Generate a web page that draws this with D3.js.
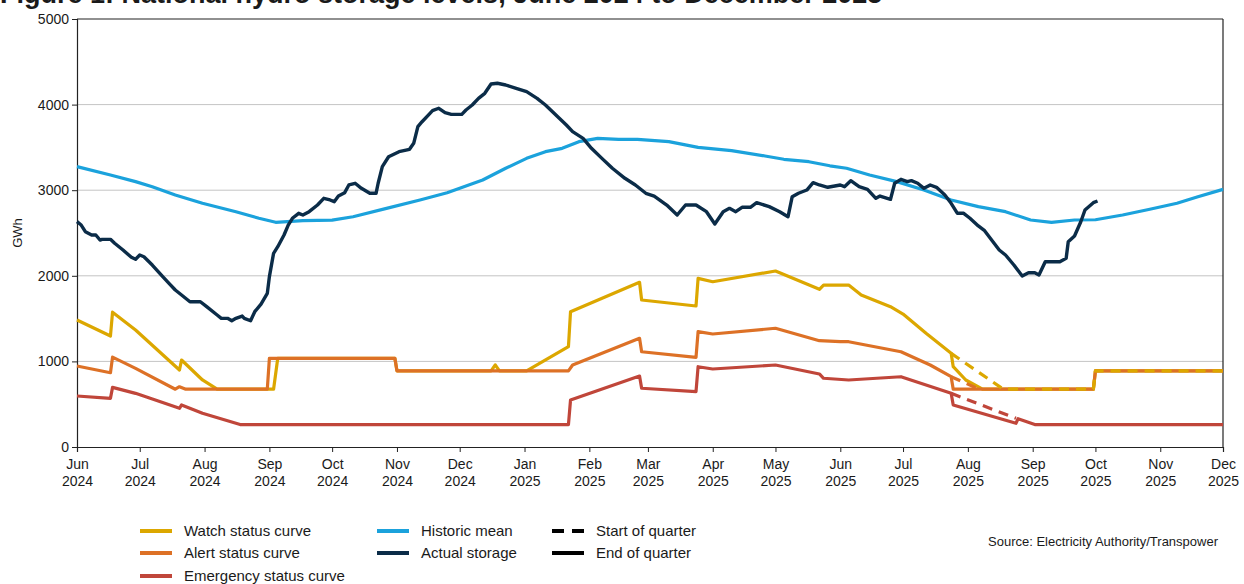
<!doctype html>
<html lang="en">
<head>
    <meta charset="UTF-8">
    <title>National hydro storage levels</title>
    <script src="https://cdnjs.cloudflare.com/ajax/libs/d3/7.8.5/d3.min.js"></script>
    <style>
        body {
            margin: 0;
            background: #ffffff;
        }

        svg text {
            font-family: "Liberation Sans", Arial, Helvetica, sans-serif;
            fill: #1a1a1a;
        }
    </style>
</head>
<body>

<svg id="chart" width="1244" height="584"></svg>

<script>

    // ---- data ----

    var yTicks = [0, 1000, 2000, 3000, 4000, 5000];

    var actualStorage = [
        ["2024-06-01", 2632], ["2024-06-03", 2593], ["2024-06-05", 2515], ["2024-06-08", 2477], ["2024-06-10", 2477],
        ["2024-06-12", 2418], ["2024-06-13", 2426], ["2024-06-17", 2426], ["2024-06-19", 2380], ["2024-06-23", 2301],
        ["2024-06-27", 2216], ["2024-06-29", 2193], ["2024-07-01", 2243], ["2024-07-03", 2223], ["2024-07-07", 2126],
        ["2024-07-12", 1990], ["2024-07-15", 1912], ["2024-07-18", 1834], ["2024-07-21", 1776], ["2024-07-25", 1697],
        ["2024-07-30", 1697], ["2024-08-02", 1639], ["2024-08-07", 1542], ["2024-08-09", 1503], ["2024-08-12", 1503],
        ["2024-08-14", 1475], ["2024-08-16", 1503], ["2024-08-19", 1530], ["2024-08-20", 1503], ["2024-08-23", 1475],
        ["2024-08-25", 1581], ["2024-08-28", 1670], ["2024-08-31", 1795], ["2024-09-01", 1990], ["2024-09-03", 2263],
        ["2024-09-05", 2340], ["2024-09-08", 2477], ["2024-09-10", 2593], ["2024-09-12", 2672], ["2024-09-15", 2730],
        ["2024-09-17", 2710], ["2024-09-20", 2749], ["2024-09-24", 2827], ["2024-09-27", 2905], ["2024-09-30", 2886],
        ["2024-10-02", 2866], ["2024-10-04", 2932], ["2024-10-07", 2971], ["2024-10-09", 3061], ["2024-10-12", 3081],
        ["2024-10-15", 3022], ["2024-10-19", 2964], ["2024-10-22", 2964], ["2024-10-23", 3081], ["2024-10-25", 3275],
        ["2024-10-28", 3391], ["2024-11-02", 3450], ["2024-11-07", 3478], ["2024-11-09", 3548], ["2024-11-11", 3742],
        ["2024-11-13", 3800], ["2024-11-16", 3878], ["2024-11-18", 3929], ["2024-11-21", 3957], ["2024-11-24", 3906],
        ["2024-11-27", 3886], ["2024-12-02", 3886], ["2024-12-04", 3937], ["2024-12-07", 3995], ["2024-12-10", 4073],
        ["2024-12-13", 4132], ["2024-12-16", 4241], ["2024-12-19", 4249], ["2024-12-23", 4229], ["2024-12-28", 4190],
        ["2025-01-02", 4151], ["2025-01-07", 4073], ["2025-01-11", 3995], ["2025-01-16", 3878], ["2025-01-21", 3762],
        ["2025-01-24", 3684], ["2025-01-29", 3606], ["2025-02-02", 3489], ["2025-02-07", 3372], ["2025-02-12", 3256],
        ["2025-02-18", 3139], ["2025-02-23", 3061], ["2025-02-28", 2964], ["2025-03-04", 2932], ["2025-03-10", 2827],
        ["2025-03-15", 2710], ["2025-03-19", 2827], ["2025-03-24", 2827], ["2025-03-29", 2749], ["2025-04-02", 2605],
        ["2025-04-06", 2749], ["2025-04-09", 2788], ["2025-04-12", 2749], ["2025-04-15", 2800], ["2025-04-19", 2800],
        ["2025-04-22", 2854], ["2025-04-28", 2808], ["2025-05-03", 2749], ["2025-05-07", 2690], ["2025-05-09", 2924],
        ["2025-05-12", 2964], ["2025-05-16", 3002], ["2025-05-19", 3088], ["2025-05-22", 3061], ["2025-05-26", 3034],
        ["2025-06-01", 3061], ["2025-06-03", 3041], ["2025-06-06", 3111], ["2025-06-10", 3041], ["2025-06-14", 3010],
        ["2025-06-18", 2905], ["2025-06-20", 2932], ["2025-06-25", 2893], ["2025-06-27", 3081], ["2025-06-30", 3127],
        ["2025-07-03", 3100], ["2025-07-05", 3111], ["2025-07-08", 3081], ["2025-07-11", 3022], ["2025-07-14", 3061],
        ["2025-07-17", 3034], ["2025-07-21", 2944], ["2025-07-24", 2847], ["2025-07-27", 2730], ["2025-07-30", 2730],
        ["2025-08-02", 2672], ["2025-08-06", 2582], ["2025-08-09", 2527], ["2025-08-13", 2398], ["2025-08-16", 2301],
        ["2025-08-19", 2243], ["2025-08-23", 2126], ["2025-08-27", 1998], ["2025-08-30", 2036], ["2025-09-02", 2036],
        ["2025-09-04", 2009], ["2025-09-07", 2165], ["2025-09-14", 2165], ["2025-09-17", 2204], ["2025-09-18", 2398],
        ["2025-09-21", 2465], ["2025-09-24", 2632], ["2025-09-26", 2769], ["2025-09-30", 2854], ["2025-10-02", 2874]
    ];

    var historicMean = [
        ["2024-06-01", 3275], ["2024-06-17", 3178], ["2024-06-29", 3100], ["2024-07-07", 3041], ["2024-07-18", 2944],
        ["2024-07-31", 2847], ["2024-08-16", 2749], ["2024-08-27", 2672], ["2024-09-04", 2625], ["2024-09-17", 2644],
        ["2024-10-01", 2650], ["2024-10-11", 2690], ["2024-10-27", 2788], ["2024-11-12", 2886], ["2024-11-25", 2970],
        ["2024-12-01", 3022], ["2024-12-12", 3119], ["2024-12-23", 3256], ["2025-01-02", 3372], ["2025-01-11", 3450],
        ["2025-01-19", 3489], ["2025-01-27", 3567], ["2025-02-05", 3606], ["2025-02-15", 3594], ["2025-02-24", 3594],
        ["2025-03-11", 3567], ["2025-03-25", 3501], ["2025-04-10", 3462], ["2025-04-26", 3400], ["2025-05-05", 3361],
        ["2025-05-17", 3333], ["2025-05-27", 3285], ["2025-06-04", 3256], ["2025-06-15", 3178], ["2025-06-28", 3100],
        ["2025-07-11", 3002], ["2025-07-24", 2886], ["2025-08-06", 2808], ["2025-08-19", 2749], ["2025-08-31", 2652],
        ["2025-09-10", 2625], ["2025-09-21", 2652], ["2025-10-01", 2655], ["2025-10-14", 2710], ["2025-10-27", 2777],
        ["2025-11-09", 2847], ["2025-11-19", 2924], ["2025-12-01", 3010]
    ];

    // end of quarter curves (solid)
    var watchCurve = [
        ["2024-06-01", 1484], ["2024-06-17", 1297], ["2024-06-18", 1575], ["2024-06-29", 1367], ["2024-07-20", 900],
        ["2024-07-21", 1016], ["2024-07-31", 783], ["2024-08-07", 675], ["2024-09-03", 675], ["2024-09-05", 1036],
        ["2024-10-31", 1036], ["2024-11-01", 890], ["2024-12-16", 890], ["2024-12-18", 960], ["2024-12-20", 890],
        ["2025-01-02", 890], ["2025-01-22", 1172], ["2025-01-23", 1581], ["2025-02-25", 1924], ["2025-02-26", 1717],
        ["2025-03-24", 1647], ["2025-03-25", 1970], ["2025-04-01", 1931], ["2025-05-01", 2056], ["2025-05-22", 1842],
        ["2025-05-24", 1892], ["2025-06-05", 1892], ["2025-06-11", 1776], ["2025-06-25", 1639], ["2025-07-01", 1553],
        ["2025-07-12", 1328], ["2025-07-24", 1094], ["2025-07-25", 938], ["2025-07-31", 783], ["2025-08-08", 675],
        ["2025-09-30", 675], ["2025-10-01", 890], ["2025-12-01", 890]
    ];

    var alertCurve = [
        ["2024-06-01", 946], ["2024-06-17", 868], ["2024-06-18", 1050], ["2024-06-29", 919], ["2024-07-18", 675],
        ["2024-07-20", 704], ["2024-07-23", 675], ["2024-08-31", 675], ["2024-09-01", 1036], ["2024-10-31", 1036],
        ["2024-11-01", 890], ["2025-01-22", 890], ["2025-01-24", 958], ["2025-02-25", 1270], ["2025-02-26", 1113],
        ["2025-03-24", 1048], ["2025-03-25", 1347], ["2025-04-01", 1320], ["2025-05-01", 1387], ["2025-05-22", 1242],
        ["2025-06-01", 1230], ["2025-06-05", 1230], ["2025-06-30", 1113], ["2025-07-14", 958], ["2025-07-24", 821],
        ["2025-07-25", 675], ["2025-09-30", 675], ["2025-10-01", 890], ["2025-12-01", 890]
    ];

    var emergencyCurve = [
        ["2024-06-01", 596], ["2024-06-17", 569], ["2024-06-18", 697], ["2024-06-29", 627], ["2024-07-20", 452],
        ["2024-07-21", 491], ["2024-07-31", 394], ["2024-08-18", 262], ["2025-01-22", 262], ["2025-01-23", 549],
        ["2025-02-25", 829], ["2025-02-26", 686], ["2025-03-24", 646], ["2025-03-25", 938], ["2025-04-01", 911],
        ["2025-05-01", 958], ["2025-05-22", 853], ["2025-05-24", 803], ["2025-06-05", 783], ["2025-06-30", 821],
        ["2025-07-24", 627], ["2025-07-25", 491], ["2025-08-24", 277], ["2025-08-25", 330], ["2025-09-02", 262],
        ["2025-12-01", 262]
    ];

    // start of quarter curves (dashed)
    var watchStart = [
        ["2025-07-24", 1094], ["2025-08-18", 675], ["2025-09-30", 675], ["2025-10-01", 890], ["2025-12-01", 890]
    ];

    var alertStart = [
        ["2025-07-24", 821], ["2025-08-06", 680]
    ];

    var emergencyStart = [
        ["2025-07-24", 627], ["2025-08-24", 335]
    ];


    var colors = {
        watch: '#dca700',
        alert: '#dd7126',
        emergency: '#c0463a',
        mean: '#1ba2dc',
        actual: '#0b2c48'
    };

    var margin = {left: 77, right: 21, top: 19, bottom: 137};
    var width = 1244;
    var height = 584;

    var parseDate = d3.timeParse('%Y-%m-%d');

    var svg = d3.select('#chart');

    var x = d3.scaleTime()
            .domain([parseDate('2024-06-01'), parseDate('2025-12-01')])
            .range([margin.left, width - margin.right]);

    var y = d3.scaleLinear()
            .domain([0, 5000])
            .range([height - margin.bottom, margin.top]);


    // title (the source image has it clipped at the top edge)
    svg.append('text')
            .attr('x', 0)
            .attr('y', 3)
            .attr('font-size', '27px')
            .attr('font-weight', 'bold')
            .text('Figure 1: National hydro storage levels, June 2024 to December 2025');


    // gridlines
    svg.append('g')
            .selectAll('line')
            .data(yTicks.filter(function (d) { return d > 0 && d < 5000; }))
            .enter()
            .append('line')
            .attr('x1', x.range()[0])
            .attr('x2', x.range()[1])
            .attr('y1', function (d) { return y(d); })
            .attr('y2', function (d) { return y(d); })
            .attr('stroke', '#c4c4c4')
            .attr('stroke-width', 1);

    // frame top and right
    svg.append('line')
            .attr('x1', x.range()[0]).attr('x2', x.range()[1])
            .attr('y1', y(5000)).attr('y2', y(5000))
            .attr('stroke', '#222').attr('stroke-width', 1.2);

    svg.append('line')
            .attr('x1', x.range()[1]).attr('x2', x.range()[1])
            .attr('y1', y(5000)).attr('y2', y(0))
            .attr('stroke', '#222').attr('stroke-width', 1.2);


    // axes
    var yAxis = svg.append('g')
            .attr('transform', 'translate(' + margin.left + ',0)')
            .call(d3.axisLeft(y).tickValues(yTicks).tickFormat(d3.format('d')).tickSize(5).tickPadding(3));

    var xAxis = svg.append('g')
            .attr('transform', 'translate(0,' + y(0) + ')')
            .call(d3.axisBottom(x).ticks(d3.timeMonth.every(1)).tickSize(5).tickFormat(function () { return ''; }));

    [yAxis, xAxis].forEach(function (g) {
        g.select('.domain').attr('stroke', '#222').attr('stroke-width', 1.2);
        g.selectAll('.tick line').attr('stroke', '#222');
        g.selectAll('text')
                .attr('font-size', '14px')
                .attr('font-family', '"Liberation Sans", Arial, sans-serif')
                .attr('fill', '#1a1a1a');
    });

    // two line month / year labels
    var fmtMonth = d3.timeFormat('%b');
    var fmtYear = d3.timeFormat('%Y');

    xAxis.selectAll('.tick text').each(function (d) {
        var t = d3.select(this);
        t.text(null).attr('y', 0).attr('dy', null);
        t.append('tspan').attr('x', 0).attr('y', 22).text(fmtMonth(d));
        t.append('tspan').attr('x', 0).attr('y', 39).text(fmtYear(d));
    });

    svg.append('text')
            .attr('transform', 'translate(22,' + y(2500) + ') rotate(-90)')
            .attr('text-anchor', 'middle')
            .attr('font-size', '13px')
            .text('GWh');


    // lines
    var line = d3.line()
            .x(function (d) { return x(parseDate(d[0])); })
            .y(function (d) { return y(d[1]); });

    function drawLine(data, color, dashed, w) {
        svg.append('path')
                .datum(data)
                .attr('d', line)
                .attr('fill', 'none')
                .attr('stroke', color)
                .attr('stroke-width', w || 3.2)
                .attr('stroke-linejoin', 'round')
                .attr('stroke-dasharray', dashed ? '10,7' : null);
    }

    drawLine(watchCurve, colors.watch, false);
    drawLine(alertCurve, colors.alert, false);
    drawLine(emergencyCurve, colors.emergency, false);

    drawLine(watchStart, colors.watch, true);
    drawLine(alertStart, colors.alert, true);
    drawLine(emergencyStart, colors.emergency, true);

    drawLine(historicMean, colors.mean, false);
    drawLine(actualStorage, colors.actual, false, 3.4);


    // legend
    var legendItems = [
        {label: 'Watch status curve', color: colors.watch, dash: null, x: 140, y: 531},
        {label: 'Alert status curve', color: colors.alert, dash: null, x: 140, y: 553},
        {label: 'Emergency status curve', color: colors.emergency, dash: null, x: 140, y: 576},
        {label: 'Historic mean', color: colors.mean, dash: null, x: 377, y: 531},
        {label: 'Actual storage', color: colors.actual, dash: null, x: 377, y: 553},
        {label: 'Start of quarter', color: '#000', dash: '12,8', x: 552, y: 531},
        {label: 'End of quarter', color: '#000', dash: null, x: 552, y: 553}
    ];

    var legend = svg.append('g')
            .selectAll('g')
            .data(legendItems)
            .enter()
            .append('g');

    legend.append('line')
            .attr('x1', function (d) { return d.x; })
            .attr('x2', function (d) { return d.x + 32; })
            .attr('y1', function (d) { return d.y; })
            .attr('y2', function (d) { return d.y; })
            .attr('stroke', function (d) { return d.color; })
            .attr('stroke-width', 4)
            .attr('stroke-dasharray', function (d) { return d.dash; });

    legend.append('text')
            .attr('x', function (d) { return d.x + 44; })
            .attr('y', function (d) { return d.y + 5; })
            .attr('font-size', '15px')
            .text(function (d) { return d.label; });

    svg.append('text')
            .attr('x', 1218)
            .attr('y', 546)
            .attr('text-anchor', 'end')
            .attr('font-size', '13px')
            .text('Source: Electricity Authority/Transpower');

</script>

</body>
</html>
